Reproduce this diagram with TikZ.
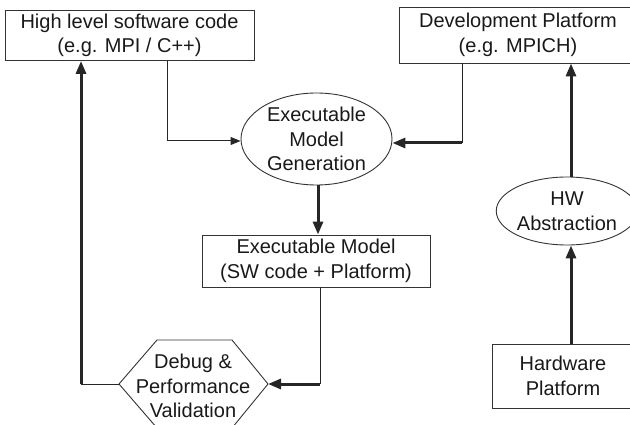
\documentclass[tikz,border=0pt]{standalone}
\usepackage{fontspec}
\setmainfont{Liberation Sans}
\usetikzlibrary{shapes.geometric,arrows.meta}
\begin{document}
\begin{tikzpicture}[x=1pt,y=-1pt,
  lbl/.style={font=\fontsize{20}{24.5}\selectfont, align=center, text=black!90},
  box/.style={lbl, draw=black!80, line width=0.9pt, inner sep=0pt},
  oval/.style={lbl, ellipse, draw=black!80, line width=0.9pt, inner sep=0pt},
  thinln/.style={line width=1pt, draw=black!85},
  thickln/.style={line width=3pt, draw=black!85},
  thinarr/.style={thinln, -{Triangle[length=10pt,width=8pt]}},
  thickarr/.style={thickln, -{Triangle[length=13pt,width=10pt]}}]
\useasboundingbox (0,0) rectangle (630,425);
\clip (0,0) rectangle (630,425);

% boxes and ovals
\node[box, minimum width=249pt, minimum height=50pt] (hl) at (129.5,35.5)
  {High level software code\\(e.g. MPI / C++)};
\node[box, minimum width=238pt, minimum height=56pt] (dev) at (518,35)
  {Development Platform\\(e.g. MPICH)};
\node[oval, minimum width=151pt, minimum height=92pt] (gen) at (316.5,139)
  {Executable\\Model\\Generation};
\node[box, minimum width=228pt, minimum height=52pt] (exe) at (316,261)
  {Executable Model\\(SW code + Platform)};
\node[oval, minimum width=134pt, minimum height=68pt] (hwa) at (567,211)
  {HW\\Abstraction};
\node[box, minimum width=142pt, minimum height=64pt] (hw) at (563,376)
  {Hardware\\Platform};

% hexagonal decision block
\coordinate (dbgL) at (119,384);
\coordinate (dbgR) at (268,384);
\draw[draw=black!80, line width=0.9pt] (dbgL) -- (157,340) -- (232,340) -- (dbgR)
  -- (232,428) -- (157,428) -- cycle;
\node[lbl] (dbg) at (193,386) {Debug \&\\Performance\\Validation};

% routing points
\coordinate (c1) at (167,141);
\coordinate (c2) at (462,143);
\coordinate (c3) at (320,384);
\coordinate (c4) at (81,384);

% connectors
\draw[thinln] (hl.south -| c1) -- (c1);
\draw[thinarr] (c1) -- (c1 -| gen.west);
\draw[thinln] (dev.south -| c2) -- (c2);
\draw[thickarr] (c2) -- (c2 -| gen.east);
\draw[thickarr] (gen.south -| 318,0) -- (exe.north -| 318,0);
\draw[thinln] (exe.south -| c3) -- (c3);
\draw[thickarr] (c3) -- (dbgR);
\draw[thinln] (dbgL) -- (c4);
\draw[thickarr] (c4) -- (hl.south -| c4);
\draw[thickarr] (hw.north -| 571,0) -- (hwa.south -| 571,0);
\draw[thickarr] (hwa.north -| 571,0) -- (dev.south -| 571,0);
\end{tikzpicture}
\end{document}
